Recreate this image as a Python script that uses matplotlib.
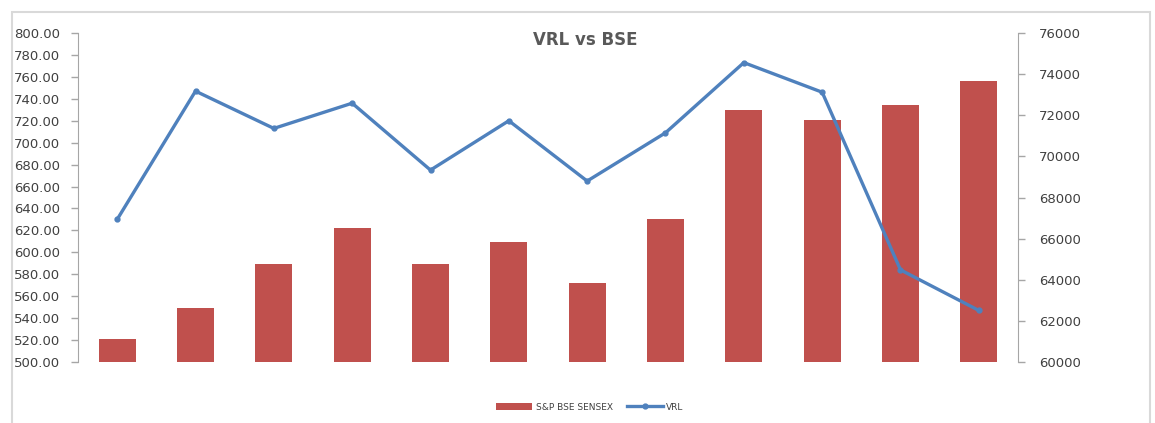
import matplotlib
matplotlib.use('Agg')
import matplotlib.pyplot as plt
from matplotlib.patches import Rectangle
import numpy as np

plt.rcParams['font.family'] = ['DejaVu Sans']

###############################################################################
# Data
###############################################################################
months = list(range(1, 13))
sensex = [61100, 62650, 64750, 66500, 64750, 65850, 63850, 66950, 72250, 71750, 72500, 73650]
vrl = [630, 747, 713, 736, 675, 720, 665, 709, 773, 746, 584, 547]
left_ticks = np.arange(500, 801, 20)
right_ticks = np.arange(60000, 76001, 2000)

(BAR_COL, LINE_COL, TXT_COL, AX_COL) = ('#C0504D', '#4F81BD', '#404040', '#A6A6A6')

###############################################################################
# Plot
###############################################################################
fig = plt.figure(figsize=(11.55, 4.23), dpi=100)
fig.patches.append(Rectangle(
    (12/1155, -0.05), (1150-12)/1155, 1-12/423+0.05, transform=fig.transFigure,
    facecolor='white', edgecolor='#D9D9D9', linewidth=1.5, zorder=-1
))
ax = fig.add_axes([78/1155, 1-362/423, (1018-78)/1155, (362-33)/423])
ax.patch.set_alpha(0)
ax2 = ax.twinx()

x = np.arange(len(months))
bars = ax2.bar(x, sensex, width=0.47, color=BAR_COL, label='S&P BSE SENSEX', zorder=1)
ax2.set_ylim(60000, 76000)
ax2.set_yticks(right_ticks)
ax2.set_yticklabels(['{}'.format(v) for v in right_ticks])

ax.set_zorder(ax2.get_zorder()+1)
line, = ax.plot(
    x, vrl, color=LINE_COL, linewidth=2.4, marker='o', markersize=3.5,
    label='VRL', zorder=3
)
ax.set_ylim(500, 800)
ax.set_yticks(left_ticks)
ax.set_yticklabels(['{:.2f}'.format(v) for v in left_ticks])
ax.set_xlim(-0.5, len(months)-0.5)
ax.set_xticks([])

for a in (ax, ax2):
    for s in ('top', 'bottom'):
        a.spines[s].set_visible(False)
    a.tick_params(axis='y', colors=AX_COL, labelcolor=TXT_COL, labelsize=9.5, length=5, width=1)
ax.spines['left'].set_color(AX_COL)
ax.spines['right'].set_visible(False)
ax2.spines['left'].set_visible(False)
ax2.spines['right'].set_color(AX_COL)
ax.tick_params(axis='y', pad=8)
ax2.tick_params(axis='y', pad=10)

fig.text(585/1155, 1-40/423, 'VRL vs BSE', ha='center', va='center',
         fontsize=12, fontweight='bold', color='#595959')
fig.legend(
    [bars, line], ['S&P BSE SENSEX', 'VRL'], loc='center',
    bbox_to_anchor=(590/1155, 1-407/423), ncol=2, frameon=False,
    fontsize=6.5, labelcolor=TXT_COL, handlelength=4, handleheight=0.7,
    columnspacing=1.5, handletextpad=0.4
)

fig.savefig('out.png', dpi=100, facecolor='white')
plt.close('all')
